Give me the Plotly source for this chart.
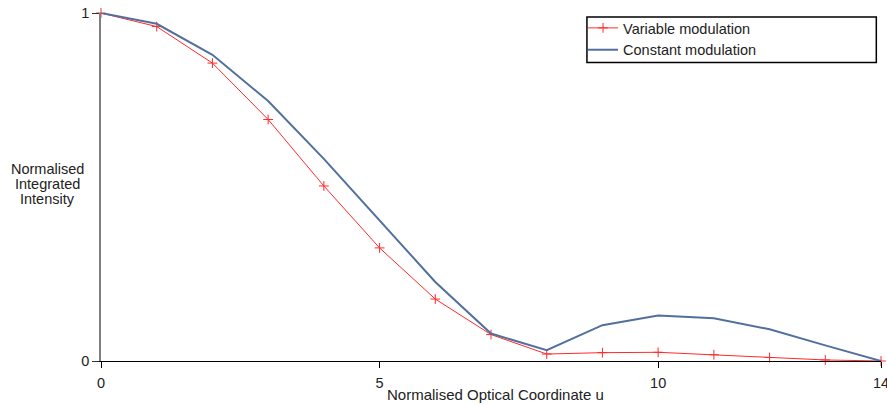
import plotly.graph_objects as go

u = list(range(0, 15))
variable_mod = [1.0, 0.961, 0.856, 0.694, 0.503, 0.325, 0.178, 0.076, 0.020, 0.024, 0.025, 0.018, 0.010, 0.003, 0.0]
constant_mod = [1.0, 0.969, 0.880, 0.747, 0.581, 0.405, 0.227, 0.079, 0.031, 0.103, 0.131, 0.123, 0.091, 0.045, 0.0]
x_ticks = [0, 5, 10, 14]
y_ticks = [0, 1]
y_title_lines = ["Normalised", "Integrated", "Intensity"]
x_title = "Normalised Optical Coordinate u"

FONT = "Liberation Sans, Arial, Helvetica, sans-serif"
TXT = "#222222"

fig = go.Figure()
fig.add_trace(go.Scatter(
    x=u, y=variable_mod, name="Variable modulation", mode="lines+markers",
    line=dict(color="#ff2a2a", width=1),
    marker=dict(symbol="cross-thin", size=7, line=dict(color="#ff2a2a", width=1)),
    cliponaxis=False,
))
fig.add_trace(go.Scatter(
    x=u, y=constant_mod, name="Constant modulation", mode="lines",
    line=dict(color="#52709e", width=2),
    cliponaxis=False,
))

# y title: three centred lines, positioned individually for tight line spacing
y_title_pos = [0.553, 0.509, 0.465]
annotations = [
    dict(text=t, xref="paper", yref="paper", x=-0.068, y=yp,
         xanchor="center", yanchor="middle", showarrow=False,
         font=dict(size=14.5, color=TXT))
    for t, yp in zip(y_title_lines, y_title_pos)
]
annotations.append(
    dict(text=x_title, xref="paper", yref="paper", x=0.506, y=-0.097,
         xanchor="center", yanchor="middle", showarrow=False,
         font=dict(size=15, color=TXT))
)

fig.update_layout(
    width=887, height=406,
    margin=dict(l=101, r=6, t=13, b=45, autoexpand=False),
    paper_bgcolor="white", plot_bgcolor="white",
    font=dict(family=FONT, size=14, color=TXT),
    showlegend=True,
    legend=dict(
        x=0.618, y=1.003, xanchor="left", yanchor="top",
        bgcolor="rgba(0,0,0,0)", borderwidth=0,
        font=dict(size=14.5, color=TXT),
        tracegroupgap=0, itemwidth=30,
    ),
    xaxis=dict(
        range=[0, 14], tickvals=x_ticks, ticktext=[str(v) for v in x_ticks],
        showgrid=False, zeroline=False, showline=True, linecolor="#000000", linewidth=1,
        ticks="outside", ticklen=6, tickcolor="#000000",
        ticklabeloverflow="allow", automargin=False, ticklabelstandoff=3,
        tickfont=dict(size=14.5),
    ),
    yaxis=dict(
        range=[0, 1], tickvals=y_ticks, ticktext=[str(v) for v in y_ticks],
        showgrid=False, zeroline=False, showline=True, linecolor="#808080", linewidth=1.5,
        ticks="outside", ticklen=7, tickcolor="#333333",
        ticklabeloverflow="allow", automargin=False,
        tickfont=dict(size=14.5),
    ),
    shapes=[dict(type="rect", xref="paper", yref="paper",
                 x0=0.623, x1=0.994, y0=0.858, y1=0.9885,
                 line=dict(color="#000000", width=1.5), fillcolor="rgba(0,0,0,0)")],
    annotations=annotations,
)

# remove the default page margin so the 887x406 figure fills the window exactly
fig.write_html(
    "out.html",
    config={"displayModeBar": False},
    post_script="document.body.style.margin='0';document.body.style.overflow='hidden';",
)
